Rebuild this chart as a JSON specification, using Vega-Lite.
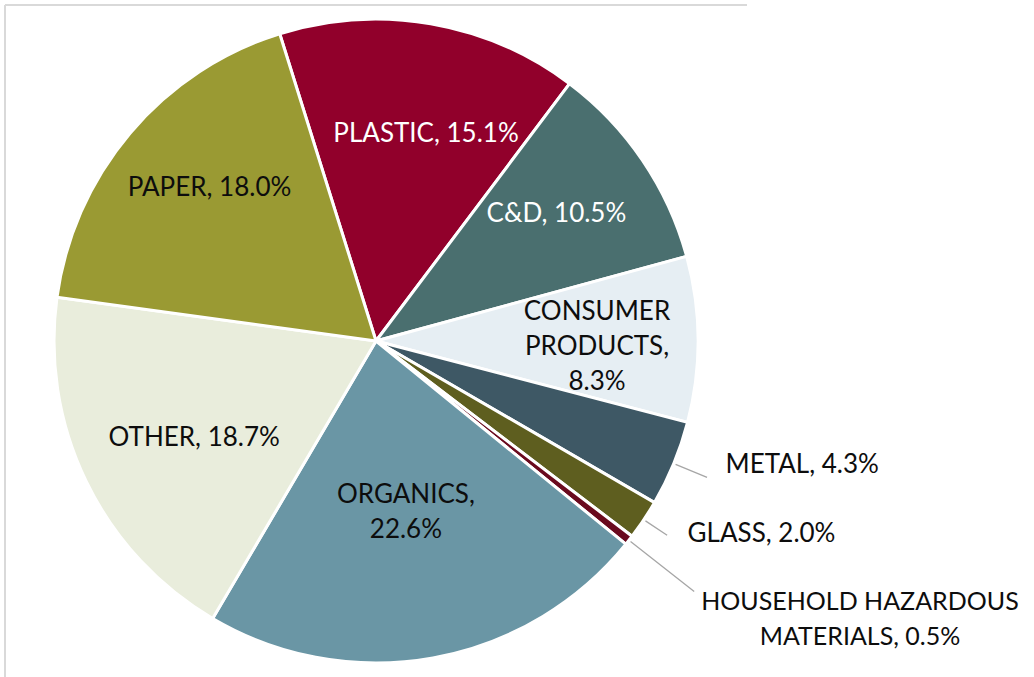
{
  "$schema": "https://vega.github.io/schema/vega-lite/v6.json",
  "autosize": "none",
  "width": 742,
  "height": 672,
  "padding": {"left": 5, "top": 5, "right": 287, "bottom": 0},
  "background": "white",
  "view": {"stroke": "#D9D9D9", "strokeWidth": 2, "strokeDash": [742, 1414, 672, 0]},
  "config": {
    "view": {"stroke": "#D9D9D9", "strokeWidth": 2},
    "text": {"font": "Lato", "fontSize": 26, "lineBreak": "\n", "lineHeight": 35, "color": "#0D0D0D", "align": "center", "baseline": "middle"}
  },
  "data": {
    "values": [
      {"category": "PLASTIC", "value": 15.1, "label": "PLASTIC, 15.1%", "n": 1},
      {"category": "C&D", "value": 10.5, "label": "C&D, 10.5%", "n": 2},
      {"category": "CONSUMER PRODUCTS", "value": 8.3, "label": "CONSUMER\nPRODUCTS,\n8.3%", "n": 3},
      {"category": "METAL", "value": 4.3, "label": "METAL, 4.3%", "n": 4},
      {"category": "GLASS", "value": 2.0, "label": "GLASS, 2.0%", "n": 5},
      {"category": "HOUSEHOLD HAZARDOUS MATERIALS", "value": 0.5, "label": "HOUSEHOLD HAZARDOUS\nMATERIALS, 0.5%", "n": 6},
      {"category": "ORGANICS", "value": 22.6, "label": "ORGANICS,\n22.6%", "n": 7},
      {"category": "OTHER", "value": 18.7, "label": "OTHER, 18.7%", "n": 8},
      {"category": "PAPER", "value": 18.0, "label": "PAPER, 18.0%", "n": 9}
    ]
  },
  "encoding": {
    "theta": {"field": "value", "type": "quantitative", "stack": true, "scale": {"range": [-0.3037, 5.9795]}},
    "order": {"field": "n", "type": "quantitative", "sort": "ascending"},
    "detail": {"field": "category", "type": "nominal"}
  },
  "layer": [
    {
      "mark": {"type": "arc", "outerRadius": 322, "stroke": "white", "strokeWidth": 3},
      "encoding": {
        "color": {
          "field": "category", "type": "nominal", "legend": null,
          "scale": {
            "domain": ["PLASTIC", "C&D", "CONSUMER PRODUCTS", "METAL", "GLASS", "HOUSEHOLD HAZARDOUS MATERIALS", "ORGANICS", "OTHER", "PAPER"],
            "range": ["#91002B", "#4A6F6F", "#E6EEF3", "#3E5865", "#5E5E1F", "#6A0A1E", "#6A96A5", "#E9EDDC", "#9A9A33"]
          }
        }
      }
    },
    {
      "mark": {"type": "arc", "filled": false, "stroke": "#A6A6A6", "strokeWidth": 1.3, "padAngle": 1.5, "innerRadius": 324, "outerRadius": 358},
      "encoding": {"strokeOpacity": {"condition": {"test": "datum.category === 'METAL'", "value": 1}, "value": 0}}
    },
    {
      "mark": {"type": "arc", "filled": false, "stroke": "#A6A6A6", "strokeWidth": 1.3, "padAngle": 1.5, "innerRadius": 324, "outerRadius": 350},
      "encoding": {"strokeOpacity": {"condition": {"test": "datum.category === 'GLASS'", "value": 1}, "value": 0}}
    },
    {
      "mark": {"type": "arc", "filled": false, "stroke": "#A6A6A6", "strokeWidth": 1.3, "padAngle": 1.5, "innerRadius": 324, "outerRadius": 405},
      "encoding": {"strokeOpacity": {"condition": {"test": "datum.category === 'HOUSEHOLD HAZARDOUS MATERIALS'", "value": 1}, "value": 0}}
    },
    {
      "mark": {"type": "text", "radius": 218, "dx": 13, "dy": 8, "color": "#FFFFFF"},
      "encoding": {"text": {"condition": {"test": "datum.category === 'PLASTIC'", "field": "label"}, "value": ""}}
    },
    {
      "mark": {"type": "text", "radius": 218, "dy": -5, "color": "#FFFFFF"},
      "encoding": {"text": {"condition": {"test": "datum.category === 'C&D'", "field": "label"}, "value": ""}}
    },
    {
      "mark": {"type": "text", "radius": 218, "dx": 3, "dy": -28},
      "encoding": {"text": {"condition": {"test": "datum.category === 'CONSUMER PRODUCTS'", "field": "label"}, "value": ""}}
    },
    {
      "mark": {"type": "text", "radius": 218, "dy": -12},
      "encoding": {"text": {"condition": {"test": "datum.category === 'PAPER'", "field": "label"}, "value": ""}}
    },
    {
      "mark": {"type": "text", "radius": 169, "dy": -12},
      "encoding": {"text": {"condition": {"test": "datum.category === 'ORGANICS'", "field": "label"}, "value": ""}}
    },
    {
      "mark": {"type": "text", "radius": 202, "dy": 9},
      "encoding": {"text": {"condition": {"test": "datum.category === 'OTHER'", "field": "label"}, "value": ""}}
    },
    {
      "mark": {"type": "text", "radius": 365, "align": "left", "dx": 12, "dy": -15},
      "encoding": {"text": {"condition": {"test": "datum.category === 'METAL'", "field": "label"}, "value": ""}}
    },
    {
      "mark": {"type": "text", "radius": 365, "align": "left", "dx": 8, "dy": -10},
      "encoding": {"text": {"condition": {"test": "datum.category === 'GLASS'", "field": "label"}, "value": ""}}
    },
    {
      "mark": {"type": "text", "radius": 420, "dx": 154, "dy": 1, "fontSize": 25},
      "encoding": {"text": {"condition": {"test": "datum.category === 'HOUSEHOLD HAZARDOUS MATERIALS'", "field": "label"}, "value": ""}}
    }
  ]
}
